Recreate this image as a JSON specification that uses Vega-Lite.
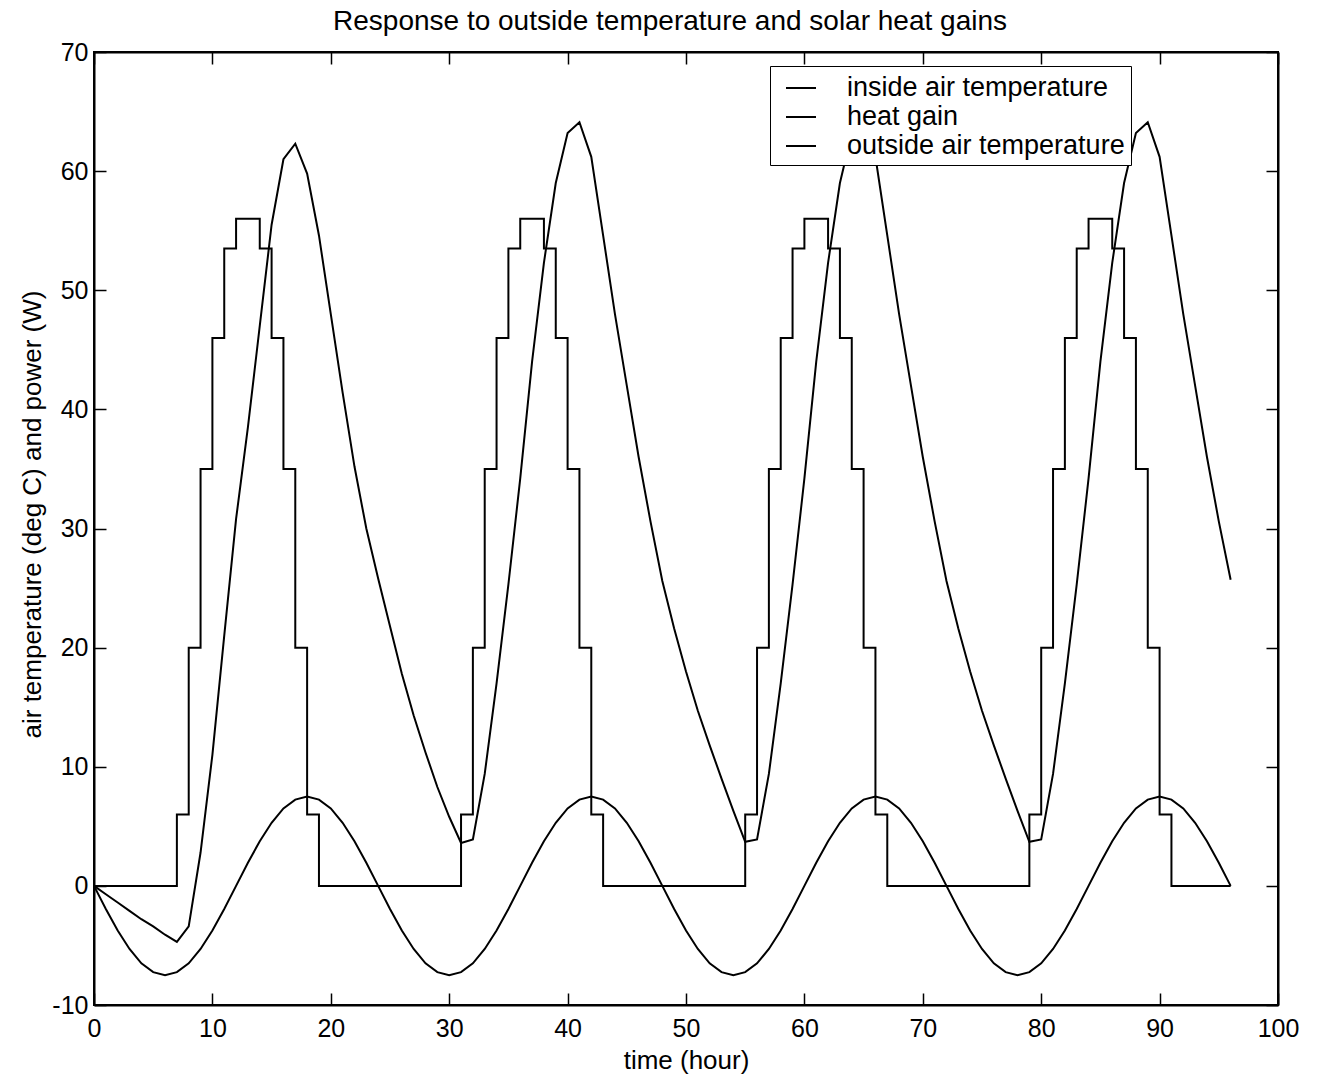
{
  "$schema": "https://vega.github.io/schema/vega-lite/v6.json",
  "width": 1184,
  "height": 953,
  "autosize": {"type": "none"},
  "padding": {"left": 94, "top": 52, "right": 47, "bottom": 78},
  "background": "white",
  "title": {"text": "Response to outside temperature and solar heat gains", "font": "Liberation Sans", "fontSize": 28, "fontWeight": "normal", "color": "black", "anchor": "middle", "offset": 4, "dx": -16},
  "data": {"values": [
    {"t":0,"inside":0,"gain":0,"outside":0},
    {"t":1,"inside":-0.7,"gain":0,"outside":-1.94},
    {"t":2,"inside":-1.4,"gain":0,"outside":-3.75},
    {"t":3,"inside":-2.1,"gain":0,"outside":-5.3},
    {"t":4,"inside":-2.8,"gain":0,"outside":-6.5},
    {"t":5,"inside":-3.4,"gain":0,"outside":-7.24},
    {"t":6,"inside":-4.1,"gain":0,"outside":-7.5},
    {"t":7,"inside":-4.7,"gain":6,"outside":-7.24},
    {"t":8,"inside":-3.4,"gain":20,"outside":-6.5},
    {"t":9,"inside":2.8,"gain":35,"outside":-5.3},
    {"t":10,"inside":11.0,"gain":46,"outside":-3.75},
    {"t":11,"inside":21.0,"gain":53.5,"outside":-1.94},
    {"t":12,"inside":30.8,"gain":56,"outside":0},
    {"t":13,"inside":38.5,"gain":56,"outside":1.94},
    {"t":14,"inside":47.0,"gain":53.5,"outside":3.75},
    {"t":15,"inside":55.5,"gain":46,"outside":5.3},
    {"t":16,"inside":61.0,"gain":35,"outside":6.5},
    {"t":17,"inside":62.3,"gain":20,"outside":7.24},
    {"t":18,"inside":59.8,"gain":6,"outside":7.5},
    {"t":19,"inside":54.6,"gain":0,"outside":7.24},
    {"t":20,"inside":48.0,"gain":0,"outside":6.5},
    {"t":21,"inside":41.4,"gain":0,"outside":5.3},
    {"t":22,"inside":35.2,"gain":0,"outside":3.75},
    {"t":23,"inside":30.0,"gain":0,"outside":1.94},
    {"t":24,"inside":25.8,"gain":0,"outside":0},
    {"t":25,"inside":21.8,"gain":0,"outside":-1.94},
    {"t":26,"inside":17.8,"gain":0,"outside":-3.75},
    {"t":27,"inside":14.3,"gain":0,"outside":-5.3},
    {"t":28,"inside":11.2,"gain":0,"outside":-6.5},
    {"t":29,"inside":8.3,"gain":0,"outside":-7.24},
    {"t":30,"inside":5.8,"gain":0,"outside":-7.5},
    {"t":31,"inside":3.6,"gain":6,"outside":-7.24},
    {"t":32,"inside":3.9,"gain":20,"outside":-6.5},
    {"t":33,"inside":9.4,"gain":35,"outside":-5.3},
    {"t":34,"inside":17.0,"gain":46,"outside":-3.75},
    {"t":35,"inside":25.3,"gain":53.5,"outside":-1.94},
    {"t":36,"inside":34.2,"gain":56,"outside":0},
    {"t":37,"inside":44.0,"gain":56,"outside":1.94},
    {"t":38,"inside":52.3,"gain":53.5,"outside":3.75},
    {"t":39,"inside":59.0,"gain":46,"outside":5.3},
    {"t":40,"inside":63.2,"gain":35,"outside":6.5},
    {"t":41,"inside":64.1,"gain":20,"outside":7.24},
    {"t":42,"inside":61.2,"gain":6,"outside":7.5},
    {"t":43,"inside":54.6,"gain":0,"outside":7.24},
    {"t":44,"inside":48.0,"gain":0,"outside":6.5},
    {"t":45,"inside":42.0,"gain":0,"outside":5.3},
    {"t":46,"inside":36.0,"gain":0,"outside":3.75},
    {"t":47,"inside":30.6,"gain":0,"outside":1.94},
    {"t":48,"inside":25.6,"gain":0,"outside":0},
    {"t":49,"inside":21.6,"gain":0,"outside":-1.94},
    {"t":50,"inside":18.0,"gain":0,"outside":-3.75},
    {"t":51,"inside":14.7,"gain":0,"outside":-5.3},
    {"t":52,"inside":11.8,"gain":0,"outside":-6.5},
    {"t":53,"inside":9.0,"gain":0,"outside":-7.24},
    {"t":54,"inside":6.3,"gain":0,"outside":-7.5},
    {"t":55,"inside":3.7,"gain":6,"outside":-7.24},
    {"t":56,"inside":3.9,"gain":20,"outside":-6.5},
    {"t":57,"inside":9.4,"gain":35,"outside":-5.3},
    {"t":58,"inside":17.0,"gain":46,"outside":-3.75},
    {"t":59,"inside":25.3,"gain":53.5,"outside":-1.94},
    {"t":60,"inside":34.2,"gain":56,"outside":0},
    {"t":61,"inside":44.0,"gain":56,"outside":1.94},
    {"t":62,"inside":52.3,"gain":53.5,"outside":3.75},
    {"t":63,"inside":59.0,"gain":46,"outside":5.3},
    {"t":64,"inside":63.2,"gain":35,"outside":6.5},
    {"t":65,"inside":64.1,"gain":20,"outside":7.24},
    {"t":66,"inside":61.2,"gain":6,"outside":7.5},
    {"t":67,"inside":54.6,"gain":0,"outside":7.24},
    {"t":68,"inside":48.0,"gain":0,"outside":6.5},
    {"t":69,"inside":42.0,"gain":0,"outside":5.3},
    {"t":70,"inside":36.0,"gain":0,"outside":3.75},
    {"t":71,"inside":30.6,"gain":0,"outside":1.94},
    {"t":72,"inside":25.6,"gain":0,"outside":0},
    {"t":73,"inside":21.6,"gain":0,"outside":-1.94},
    {"t":74,"inside":18.0,"gain":0,"outside":-3.75},
    {"t":75,"inside":14.7,"gain":0,"outside":-5.3},
    {"t":76,"inside":11.8,"gain":0,"outside":-6.5},
    {"t":77,"inside":9.0,"gain":0,"outside":-7.24},
    {"t":78,"inside":6.3,"gain":0,"outside":-7.5},
    {"t":79,"inside":3.7,"gain":6,"outside":-7.24},
    {"t":80,"inside":3.9,"gain":20,"outside":-6.5},
    {"t":81,"inside":9.4,"gain":35,"outside":-5.3},
    {"t":82,"inside":17.0,"gain":46,"outside":-3.75},
    {"t":83,"inside":25.3,"gain":53.5,"outside":-1.94},
    {"t":84,"inside":34.2,"gain":56,"outside":0},
    {"t":85,"inside":44.0,"gain":56,"outside":1.94},
    {"t":86,"inside":52.3,"gain":53.5,"outside":3.75},
    {"t":87,"inside":59.0,"gain":46,"outside":5.3},
    {"t":88,"inside":63.2,"gain":35,"outside":6.5},
    {"t":89,"inside":64.1,"gain":20,"outside":7.24},
    {"t":90,"inside":61.2,"gain":6,"outside":7.5},
    {"t":91,"inside":54.6,"gain":0,"outside":7.24},
    {"t":92,"inside":48.0,"gain":0,"outside":6.5},
    {"t":93,"inside":42.0,"gain":0,"outside":5.3},
    {"t":94,"inside":36.0,"gain":0,"outside":3.75},
    {"t":95,"inside":30.6,"gain":0,"outside":1.94},
    {"t":96,"inside":25.7,"gain":0,"outside":0}
  ]},
  "layer": [
    {
      "mark": {"type": "line", "strokeWidth": 2},
      "encoding": {
        "x": {"field": "t", "type": "quantitative", "scale": {"domain": [0, 100], "nice": false, "zero": false},
              "axis": {"orient": "bottom", "title": "time (hour)", "values": [0,10,20,30,40,50,60,70,80,90,100], "labelFlush": false, "labelPadding": 23, "titlePadding": 6}},
        "y": {"field": "inside", "type": "quantitative", "scale": {"domain": [-10, 70], "nice": false, "zero": false},
              "axis": {"orient": "left", "title": "air temperature (deg C) and power (W)", "titleY": 462, "values": [-10,0,10,20,30,40,50,60,70], "labelFlush": false, "labelPadding": 18, "titlePadding": 6, "labelExpr": "replace(datum.label, '\u2212', '-')"}},
        "color": {"datum": "inside air temperature", "type": "nominal",
                  "scale": {"domain": ["inside air temperature", "heat gain", "outside air temperature"], "range": ["black", "black", "black"]},
                  "legend": {"orient": "none", "legendX": 676, "legendY": 14, "title": null, "strokeColor": "black", "fillColor": "white", "padding": 6, "symbolType": "stroke", "symbolSize": 900, "symbolStrokeWidth": 2, "symbolOffset": 9, "labelOffset": 30, "labelLimit": 500, "labelFont": "Liberation Sans", "labelFontSize": 27, "labelColor": "black", "rowPadding": 0}}
      }
    },
    {
      "mark": {"type": "line", "strokeWidth": 2, "interpolate": "step-after"},
      "encoding": {
        "x": {"field": "t", "type": "quantitative", "axis": null},
        "y": {"field": "gain", "type": "quantitative", "axis": null},
        "color": {"datum": "heat gain", "type": "nominal"}
      }
    },
    {
      "mark": {"type": "line", "strokeWidth": 2},
      "encoding": {
        "x": {"field": "t", "type": "quantitative",
              "axis": {"orient": "top", "title": null, "labels": false, "values": [0,10,20,30,40,50,60,70,80,90,100]}},
        "y": {"field": "outside", "type": "quantitative",
              "axis": {"orient": "right", "title": null, "labels": false, "values": [-10,0,10,20,30,40,50,60,70]}},
        "color": {"datum": "outside air temperature", "type": "nominal"}
      }
    }
  ],
  "resolve": {"axis": {"x": "independent", "y": "independent"}},
  "config": {
    "view": {"stroke": "black", "strokeWidth": 2},
    "axis": {"grid": false, "domainColor": "black", "domainWidth": 2, "tickColor": "black", "tickWidth": 1.5, "tickSize": -12,
             "labelFont": "Liberation Sans", "labelFontSize": 25, "labelColor": "black",
             "titleFont": "Liberation Sans", "titleFontSize": 26, "titleFontWeight": "normal", "titleColor": "black"}
  }
}
